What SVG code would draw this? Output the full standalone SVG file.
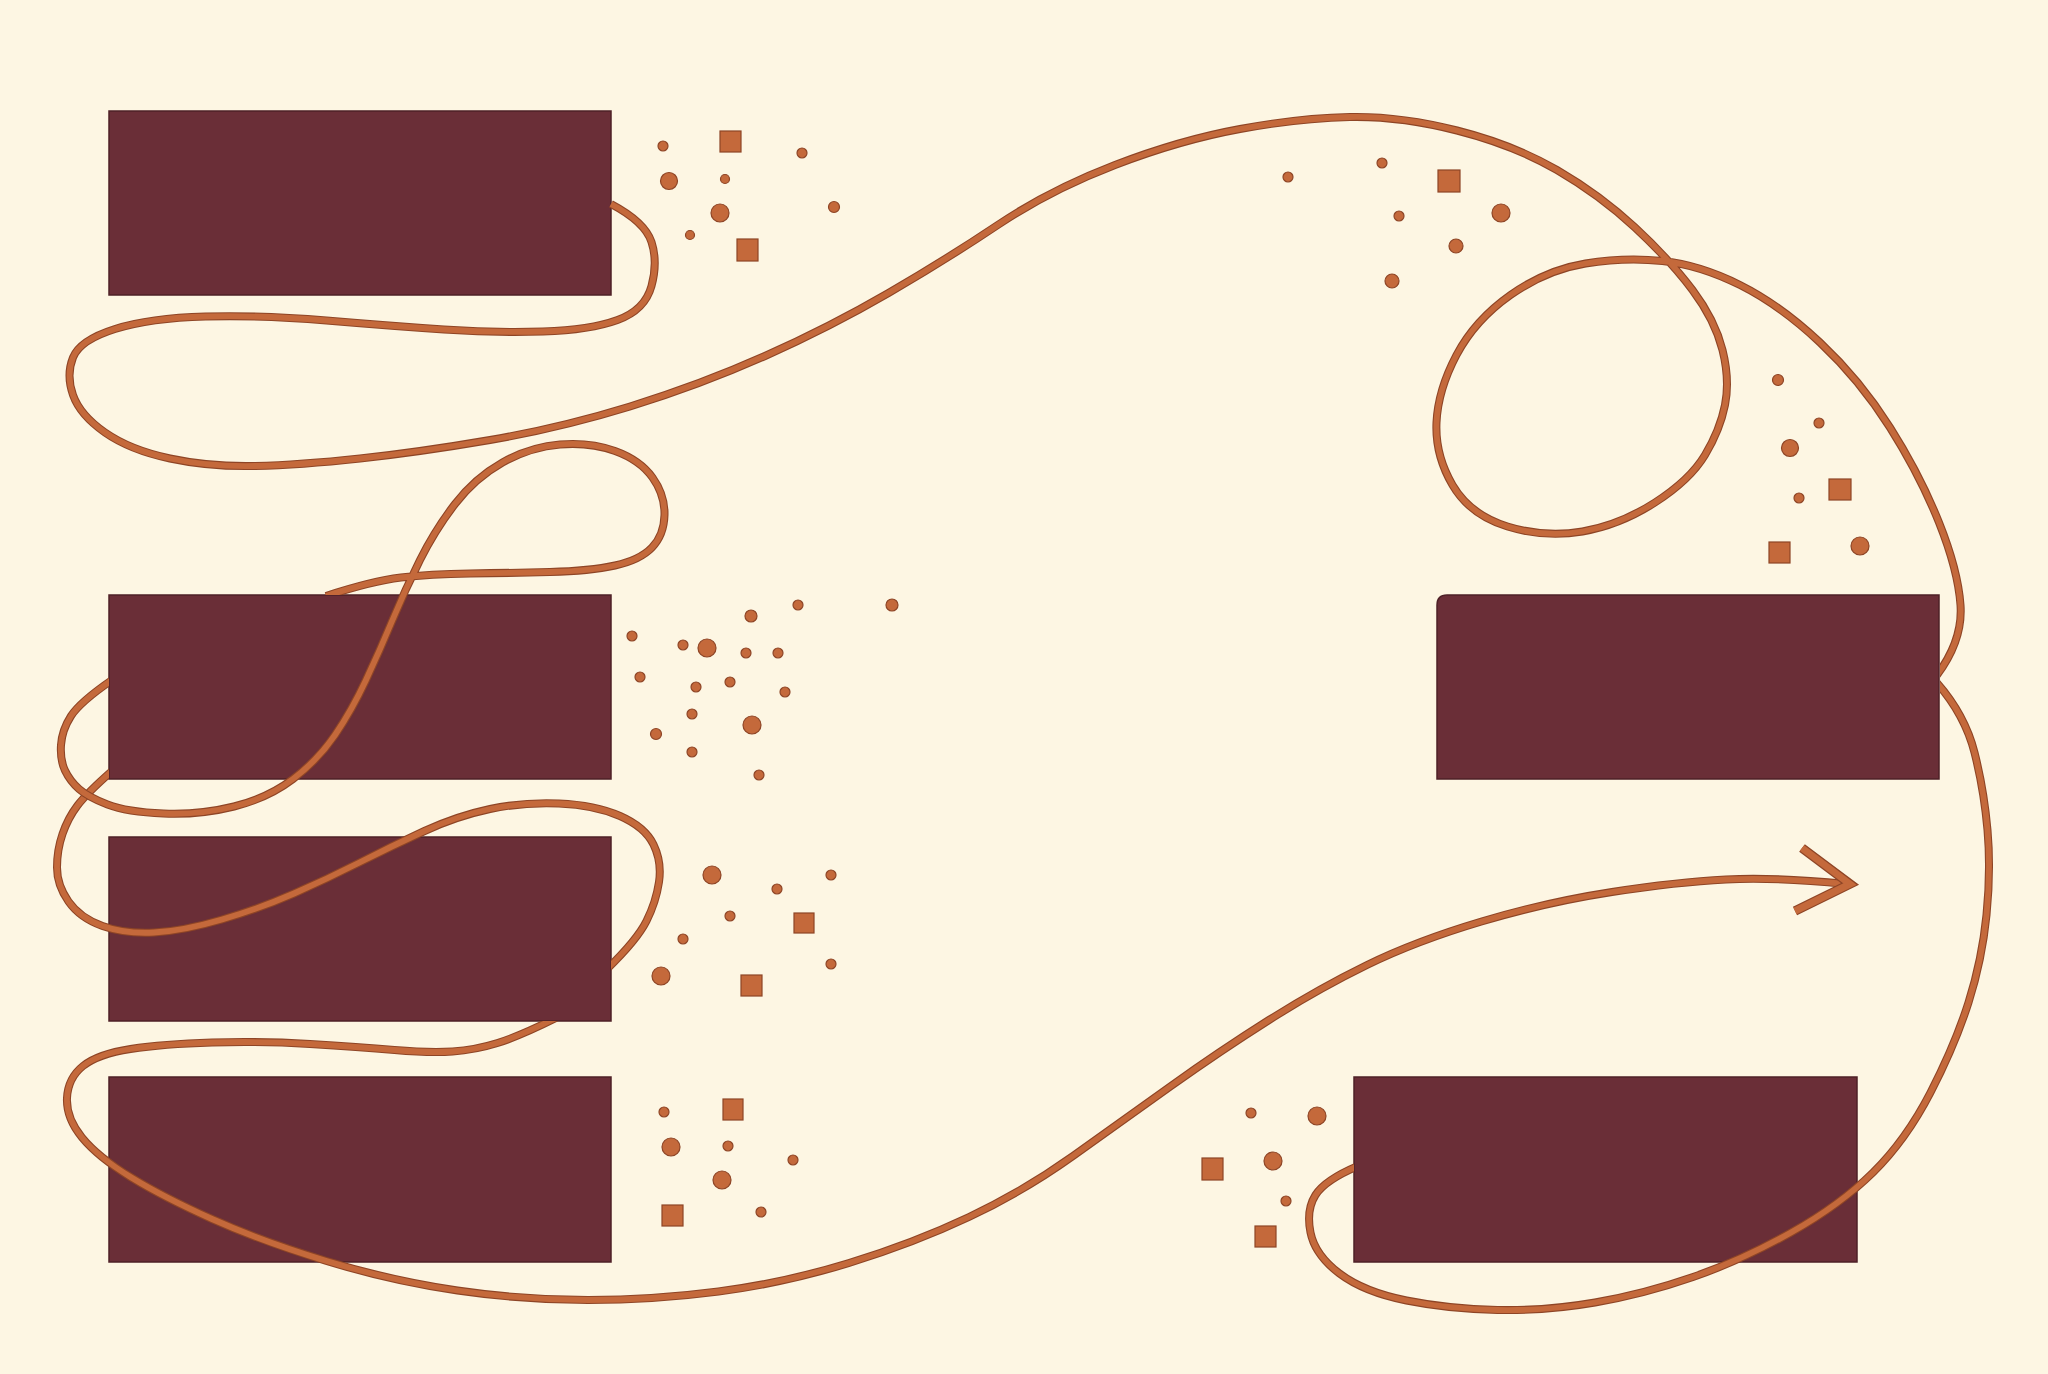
<svg xmlns="http://www.w3.org/2000/svg" width="2048" height="1374" viewBox="0 0 2048 1374">
<style>
.node{fill:#6A2E37;stroke:#4E2027;stroke-width:1.5}
.edge{fill:none;stroke:#8E4526;stroke-width:8;stroke-linecap:butt;stroke-linejoin:round}
.core{fill:none;stroke:#C4693B;stroke-width:5.8;stroke-linecap:butt;stroke-linejoin:round}
.ahe{fill:none;stroke:#8E4526;stroke-width:9.5;stroke-linecap:butt;stroke-linejoin:miter}
.ahc{fill:none;stroke:#C4693B;stroke-width:7;stroke-linecap:butt;stroke-linejoin:miter}
.dot{fill:#C4693B;stroke:#8E4526;stroke-width:1.2}
</style>
<defs>
<path id="c1" d="M611,204 Q645,222 651.5,242 T651.5,286 T617.5,320 T543,331.5 T444,329.5 T326.5,320.5 T205.5,316.5 T115,329 T73,357.5 T73,395 T105,432.5 T170,458.5 T255,466 T360,458.5 T490,440 T630,406.5 T765,356 T888.5,293 T998.5,224.5 T1115,165 T1240,129 T1350,117 T1457,130.5 T1557,170 T1635,227.5 T1692.5,290 T1722.5,350 T1725,405 T1705,455 T1655,502.5 T1582.5,531.5 T1507.5,526.5 T1452.5,485 T1436.5,422.5 T1456.5,355 T1510.5,295 T1585.5,263.5 T1662.5,261 T1740,285 T1820,342.5 T1890,427.5 T1939,522.5 T1960.5,605 T1937,675"/>
<path id="c2" d="M1937,683 Q1965,715 1974.5,752.5 T1987.5,830 T1986.5,915 T1968.5,1002.5 T1930.5,1092.5 T1873,1172.5 T1791,1232.5 T1693,1277 T1595,1302.5 T1497.5,1310 T1406.5,1300.5 T1339.5,1273.5 T1310.5,1232.5 T1315.5,1195 T1358,1166"/>
<path id="c3" d="M556,1018 Q520,1036 497.5,1043 T452.5,1051.5 T394.5,1050 T310,1044 T212,1042.5 T130.5,1049 T83,1066 T67,1098 T82,1137.5 T130.5,1177 T212,1219 T326.5,1261 T457.5,1290.5 T588,1300 T718.5,1291.5 T849,1263 T969,1217 T1073,1156 T1171,1086 T1269,1020 T1367,965 T1481.5,921.5 T1612,892 T1726,879.5 T1846,884"/>
<path id="c4" d="M607,969 Q637,940 646.5,921 T659,882 T653.5,844.5 T620,816 T559,803.5 T490,809 T424.5,831 T359.5,862.5 T294,893.5 T222,919.5 T154,932.5 T102.5,926 T68.5,901.5 T57,867.5 T62.5,834 T77.5,805.5 T112,771"/>
<path id="c5" d="M112,680 Q80,702 71,716 T61,745 T65,770.5 T79,789 T107.5,804.5 T163.5,813.5 T234,806.5 T293,779 T335,735 T366,680 T392.5,620 T420,560 T455,504 T502.5,462.5 T560,444.5 T615,451 T652.5,477.5 T664.5,515 T652,547.5 T615,565.5 T550,572 T470,573.5 T401,577.5 T326,596"/>
<clipPath id="k1"><path clip-rule="evenodd" d="M0,0 H2048 V1374 H0 Z M1437,595 H1940 V779 H1437 Z"/></clipPath>
<clipPath id="k2"><path clip-rule="evenodd" d="M0,0 H2048 V1374 H0 Z M1437,595 H1940 V779 H1437 Z M1354,1140 H1390 V1190 H1354 Z"/></clipPath>
<clipPath id="k3"><path clip-rule="evenodd" d="M0,0 H2048 V1374 H0 Z M109,837 H611 V1021 H109 Z"/></clipPath>
<clipPath id="k4"><path clip-rule="evenodd" d="M0,0 H2048 V1374 H0 Z M109,595 H611 V779 H109 Z M585,945 H611 V990 H585 Z"/></clipPath>
<clipPath id="k5"><path clip-rule="evenodd" d="M0,0 H2048 V1374 H0 Z M109,665 H140 V700 H109 Z M295,595 H368 V615 H295 Z"/></clipPath>
</defs>
<rect x="0" y="0" width="2048" height="1374" fill="#FDF6E3"/>
<g id="node1"><rect class="node" x="109" y="111" width="502" height="184"/></g>
<g id="node2"><rect class="node" x="109" y="595" width="502" height="184"/></g>
<g id="node3"><rect class="node" x="109" y="837" width="502" height="184"/></g>
<g id="node4"><rect class="node" x="109" y="1077" width="502" height="185"/></g>
<g id="node5"><path class="node" d="M1447,595 H1939 V779 H1437 V605 Q1437,595 1447,595 Z"/></g>
<g id="node6"><rect class="node" x="1354" y="1077" width="503" height="185"/></g>
<g id="connectors">
<g clip-path="url(#k1)"><use href="#c1" class="edge"/><use href="#c1" class="core"/></g>
<g clip-path="url(#k2)"><use href="#c2" class="edge"/><use href="#c2" class="core"/></g>
<g clip-path="url(#k3)"><use href="#c3" class="edge"/><use href="#c3" class="core"/></g>
<g clip-path="url(#k4)"><use href="#c4" class="edge"/><use href="#c4" class="core"/></g>
<g clip-path="url(#k5)"><use href="#c5" class="edge"/><use href="#c5" class="core"/></g>
<polyline class="ahe" points="1802,848 1850,884 1795,911"/>
<polyline class="ahc" points="1802,848 1850,884 1795,911"/>
</g>
<g id="particles">
<circle class="dot" cx="663" cy="146" r="5"/>
<rect class="dot" x="720" y="131" width="21" height="21"/>
<circle class="dot" cx="802" cy="153" r="5"/>
<circle class="dot" cx="669" cy="181" r="8.5"/>
<circle class="dot" cx="725" cy="179" r="4.5"/>
<circle class="dot" cx="720" cy="213" r="9"/>
<circle class="dot" cx="834" cy="207" r="5.5"/>
<circle class="dot" cx="690" cy="235" r="4.5"/>
<rect class="dot" x="737" y="239" width="21" height="22"/>

<circle class="dot" cx="632" cy="636" r="5"/>
<circle class="dot" cx="683" cy="645" r="5"/>
<circle class="dot" cx="707" cy="648" r="9"/>
<circle class="dot" cx="751" cy="616" r="6"/>
<circle class="dot" cx="798" cy="605" r="5"/>
<circle class="dot" cx="892" cy="605" r="6"/>
<circle class="dot" cx="746" cy="653" r="5"/>
<circle class="dot" cx="778" cy="653" r="5"/>
<circle class="dot" cx="640" cy="677" r="5"/>
<circle class="dot" cx="696" cy="687" r="5"/>
<circle class="dot" cx="730" cy="682" r="5"/>
<circle class="dot" cx="785" cy="692" r="5"/>
<circle class="dot" cx="692" cy="714" r="5"/>
<circle class="dot" cx="752" cy="725" r="9"/>
<circle class="dot" cx="656" cy="734" r="5.5"/>
<circle class="dot" cx="692" cy="752" r="5"/>
<circle class="dot" cx="759" cy="775" r="5"/>

<circle class="dot" cx="712" cy="875" r="9"/>
<circle class="dot" cx="831" cy="875" r="5"/>
<circle class="dot" cx="777" cy="889" r="5"/>
<circle class="dot" cx="730" cy="916" r="5"/>
<rect class="dot" x="794" y="913" width="20" height="20"/>
<circle class="dot" cx="683" cy="939" r="5"/>
<circle class="dot" cx="831" cy="964" r="5"/>
<circle class="dot" cx="661" cy="976" r="9"/>
<rect class="dot" x="741" y="975" width="21" height="21"/>

<circle class="dot" cx="664" cy="1112" r="5"/>
<rect class="dot" x="723" y="1099" width="20" height="21"/>
<circle class="dot" cx="671" cy="1147" r="9"/>
<circle class="dot" cx="728" cy="1146" r="5"/>
<circle class="dot" cx="793" cy="1160" r="5"/>
<circle class="dot" cx="722" cy="1180" r="9"/>
<rect class="dot" x="662" y="1205" width="21" height="21"/>
<circle class="dot" cx="761" cy="1212" r="5"/>

<circle class="dot" cx="1288" cy="177" r="5"/>
<circle class="dot" cx="1382" cy="163" r="5"/>
<rect class="dot" x="1438" y="170" width="22" height="22"/>
<circle class="dot" cx="1501" cy="213" r="9"/>
<circle class="dot" cx="1399" cy="216" r="5"/>
<circle class="dot" cx="1456" cy="246" r="7"/>
<circle class="dot" cx="1392" cy="281" r="7"/>

<circle class="dot" cx="1778" cy="380" r="5.5"/>
<circle class="dot" cx="1819" cy="423" r="5"/>
<circle class="dot" cx="1790" cy="448" r="8.5"/>
<rect class="dot" x="1829" y="479" width="22" height="21"/>
<circle class="dot" cx="1799" cy="498" r="5"/>
<rect class="dot" x="1769" y="542" width="21" height="21"/>
<circle class="dot" cx="1860" cy="546" r="9"/>

<circle class="dot" cx="1251" cy="1113" r="5"/>
<circle class="dot" cx="1317" cy="1116" r="9"/>
<rect class="dot" x="1202" y="1158" width="21" height="22"/>
<circle class="dot" cx="1273" cy="1161" r="9"/>
<circle class="dot" cx="1286" cy="1201" r="5"/>
<rect class="dot" x="1255" y="1226" width="21" height="21"/>
</g>
</svg>
